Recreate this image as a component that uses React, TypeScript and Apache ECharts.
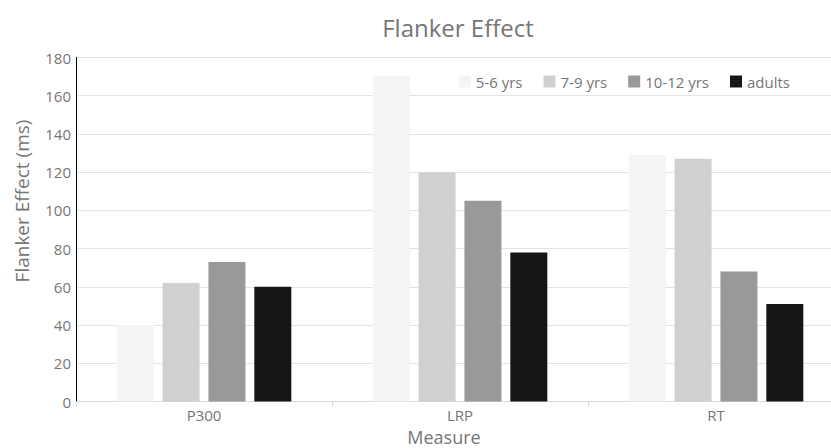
import React, { useEffect, useRef } from "react";
import * as echarts from "echarts";

const categories = ["P300", "LRP", "RT"];
const seriesNames = ["5-6 yrs", "7-9 yrs", "10-12 yrs", "adults"];
const values5to6 = [40, 170, 129];
const values7to9 = [62, 120, 127];
const values10to12 = [73, 105, 68];
const valuesAdults = [60, 78, 51];
const colors = ["#f4f4f4", "#cfd0d0", "#999999", "#161616"];
const yTicks = { min: 0, max: 180, interval: 20 };

const FONT = "Open Sans";
const TEXT = "#767676";

export default function App() {
  const ref = useRef<HTMLDivElement>(null);
  useEffect(() => {
    if (!ref.current) return;
    const chart = echarts.init(ref.current, undefined, { renderer: "svg" });
    const data = [values5to6, values7to9, values10to12, valuesAdults];
    chart.setOption({
      animation: false,
      backgroundColor: "#ffffff",
      textStyle: { fontFamily: FONT, color: TEXT },
      title: {
        text: "Flanker Effect",
        left: 453,
        textAlign: "center",
        top: 10,
        textStyle: { fontFamily: FONT, fontSize: 24, fontWeight: "normal", color: TEXT },
      },
      legend: {
        right: 36,
        top: 69,
        itemWidth: 12,
        itemHeight: 12,
        itemGap: 21,
        icon: "rect",
        textStyle: { fontFamily: FONT, fontSize: 15, color: TEXT },
        data: seriesNames,
      },
      grid: {
        left: 76,
        width: 768,
        top: 57.5,
        height: 344,
        containLabel: false,
        outerBoundsMode: "none",
      },
      xAxis: {
        type: "category",
        data: categories,
        axisLine: { show: true, lineStyle: { color: "#d9d9d9", width: 1 } },
        axisTick: { show: true, length: 5, lineStyle: { color: "#d9d9d9" } },
        axisLabel: { fontFamily: FONT, fontSize: 15, lineHeight: 17, color: TEXT, margin: 5 },
      },
      yAxis: {
        type: "value",
        min: yTicks.min,
        max: yTicks.max,
        interval: yTicks.interval,
        axisLine: { show: true, lineStyle: { color: "#000000", width: 1 } },
        axisTick: { show: false },
        axisLabel: { fontFamily: FONT, fontSize: 15, color: TEXT, margin: 5 },
        splitLine: { show: true, lineStyle: { color: "#e3e3e3", width: 1 } },
      },
      graphic: [
        {
          type: "text",
          x: 444,
          y: 437,
          style: {
            text: "Measure",
            fontFamily: FONT,
            fontSize: 18,
            lineHeight: 18,
            fill: TEXT,
            align: "center",
            verticalAlign: "middle",
          },
        },
        {
          type: "text",
          x: 22,
          y: 201,
          rotation: Math.PI / 2,
          style: {
            text: "Flanker Effect (ms)",
            fontFamily: FONT,
            fontSize: 19,
            fill: TEXT,
            align: "center",
            verticalAlign: "middle",
          },
        },
      ],
      series: seriesNames.map((name, i) => ({
        name,
        type: "bar",
        data: data[i],
        barWidth: 37,
        barGap: "24%",
        itemStyle: { color: colors[i] },
      })),
    });
    return () => chart.dispose();
  }, []);
  return (
    <div
      ref={ref}
      style={{ position: "fixed", left: 0, top: 0, width: 831, height: 448 }}
    />
  );
}
